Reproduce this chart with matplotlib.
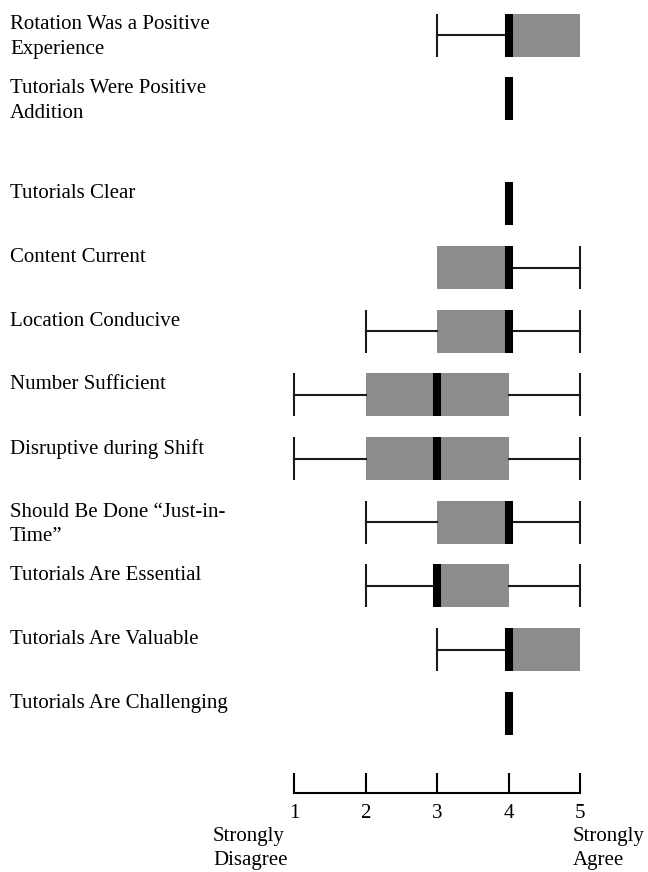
import matplotlib
matplotlib.use("Agg")
import matplotlib.pyplot as plt
import matplotlib.transforms as mtransforms

plt.rcParams['font.family'] = ['Liberation Serif', 'DejaVu Serif']

# survey items, top to bottom
labels = [
    "Rotation Was a Positive\nExperience",
    "Tutorials Were Positive\nAddition",
    "Tutorials Clear",
    "Content Current",
    "Location Conducive",
    "Number Sufficient",
    "Disruptive during Shift",
    "Should Be Done \u201cJust-in-\nTime\u201d",
    "Tutorials Are Essential",
    "Tutorials Are Valuable",
    "Tutorials Are Challenging",
]
whis_lo = [3, 4, 4, 3, 2, 1, 1, 2, 2, 3, 4]
q1      = [4, 4, 4, 3, 3, 2, 2, 3, 3, 4, 4]
median  = [4, 4, 4, 4, 4, 3, 3, 4, 3, 4, 4]
q3      = [5, 4, 4, 4, 4, 4, 4, 4, 4, 5, 4]
whis_hi = [5, 4, 4, 5, 5, 5, 5, 5, 5, 5, 4]
# row positions (gap after the second item)
rows = [0, 1, 2.65, 3.65, 4.65, 5.65, 6.65, 7.65, 8.65, 9.65, 10.65]

scale_ticks = [1, 2, 3, 4, 5]

W, H = 648, 872
fig = plt.figure(figsize=(W / 100, H / 100), dpi=100)
ax = fig.add_axes([294 / W, 1 - 793 / H, (580 - 294) / W, 793 / H])

stats = []
for i in range(len(labels)):
    stats.append(dict(med=median[i], q1=q1[i], q3=q3[i],
                      whislo=whis_lo[i], whishi=whis_hi[i], fliers=[]))

box_h = 0.675
art = ax.bxp(stats, positions=rows, widths=box_h, capwidths=box_h,
             orientation='horizontal', patch_artist=True, showfliers=False,
             boxprops=dict(facecolor='#8c8c8c', edgecolor='none', linewidth=0),
             medianprops=dict(color='black', linewidth=5.8, solid_capstyle='butt'),
             whiskerprops=dict(color='#1a1a1a', linewidth=1.5),
             capprops=dict(color='#1a1a1a', linewidth=1.5, solid_capstyle='butt'))

# no cap where the whisker has zero length
for i in range(len(labels)):
    if whis_lo[i] == q1[i]:
        art['caps'][2 * i].set_visible(False)
    if whis_hi[i] == q3[i]:
        art['caps'][2 * i + 1].set_visible(False)
for key in ('caps', 'whiskers', 'medians', 'boxes'):
    for a in art[key]:
        a.set_clip_on(False)

ax.set_xlim(1, 5)
ax.set_ylim(11.9, -0.55)
for s in ('top', 'left', 'right'):
    ax.spines[s].set_visible(False)
ax.spines['bottom'].set_linewidth(1.5)
ax.set_yticks([])
ax.set_xticks(scale_ticks)
ax.set_xticklabels([str(t) for t in scale_ticks])
ax.tick_params(axis='x', direction='in', length=14.4, width=1.5, pad=8, labelsize=15)

trans = mtransforms.blended_transform_factory(fig.transFigure, ax.transData)
for i, lab in enumerate(labels):
    ax.text(10 / W, rows[i] - box_h / 2 + 0.03, lab, transform=trans,
            ha='left', va='top', fontsize=15, linespacing=1.4)

fig.text(213 / W, 1 - 827 / H, "Strongly\nDisagree", ha='left', va='top',
         fontsize=15, linespacing=1.35)
fig.text(573 / W, 1 - 827 / H, "Strongly\nAgree", ha='left', va='top',
         fontsize=15, linespacing=1.35)

fig.savefig("out.png", dpi=100)
